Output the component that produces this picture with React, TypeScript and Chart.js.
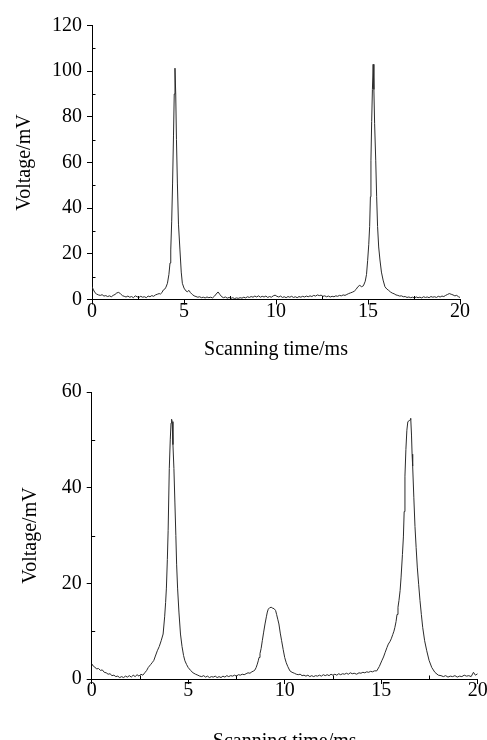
import { useEffect, useRef } from 'react';
import { Chart, registerables } from 'chart.js';

Chart.register(...registerables);

// ---------- data ----------
const topTime = [
  0.00, 0.08, 0.16, 0.25, 0.35, 0.45, 0.55, 0.65, 0.75, 0.85, 0.95, 1.05, 1.15, 1.25, 1.35, 1.45, 1.55, 1.65, 1.75, 1.85,
  1.95, 2.05, 2.15, 2.25, 2.35, 2.45, 2.55, 2.65, 2.75, 2.85, 2.95, 3.05, 3.15, 3.25, 3.35, 3.45, 3.55, 3.65, 3.72, 3.80,
  3.88, 3.95, 4.02, 4.10, 4.18, 4.24, 4.28, 4.33, 4.38, 4.43, 4.47, 4.51, 4.55, 4.59, 4.64, 4.70, 4.78, 4.85, 4.91, 5.00,
  5.10, 5.18, 5.27, 5.35, 5.45, 5.55, 5.65, 5.75, 5.85, 5.95, 6.05, 6.15, 6.25, 6.35, 6.45, 6.55, 6.65, 6.75, 6.85, 6.95,
  7.05, 7.15, 7.25, 7.35, 7.45, 7.55, 7.65, 7.75, 7.85, 7.95, 8.05, 8.15, 8.25, 8.35, 8.45, 8.55, 8.65, 8.75, 8.85, 8.95,
  9.05, 9.15, 9.25, 9.35, 9.45, 9.55, 9.65, 9.75, 9.85, 9.95, 10.05, 10.15, 10.25, 10.35, 10.45, 10.55, 10.65, 10.75, 10.85, 10.95,
  11.05, 11.15, 11.25, 11.35, 11.45, 11.55, 11.65, 11.75, 11.85, 11.95, 12.05, 12.15, 12.25, 12.35, 12.45, 12.55, 12.65, 12.75, 12.85, 12.95,
  13.05, 13.15, 13.25, 13.35, 13.45, 13.55, 13.65, 13.75, 13.85, 13.95, 14.05, 14.15, 14.25, 14.35, 14.45, 14.55, 14.65, 14.75, 14.85, 14.92,
  14.98, 15.04, 15.09, 15.13, 15.16, 15.20, 15.24, 15.28, 15.32, 15.36, 15.42, 15.47, 15.52, 15.58, 15.65, 15.73, 15.82, 15.92, 16.02, 16.12,
  16.22, 16.32, 16.42, 16.52, 16.62, 16.72, 16.82, 16.92, 17.02, 17.12, 17.22, 17.32, 17.42, 17.52, 17.62, 17.72, 17.82, 17.92, 18.02, 18.12,
  18.22, 18.32, 18.42, 18.52, 18.62, 18.72, 18.82, 18.92, 19.02, 19.12, 19.22, 19.32, 19.42, 19.52, 19.62, 19.72, 19.82, 19.92, 20.00,
];
const topVoltage = [
  5.6, 4.2, 3.0, 2.4, 2.0, 1.8, 2.1, 1.5, 1.7, 1.3, 1.6, 1.2, 1.8, 2.2, 2.9, 3.1, 2.5, 1.7, 1.4, 1.1,
  1.5, 1.0, 1.3, 0.8, 1.6, 1.2, 0.9, 1.4, 1.0, 1.2, 0.8, 1.5, 1.2, 1.7, 1.4, 2.0, 2.3, 2.6, 2.4, 3.0,
  4.2, 4.5, 5.4, 7.1, 11, 16, 21.7, 34, 51, 72, 90, 101.3, 90, 70, 51, 33, 21.7, 12, 7.1, 5.0,
  3.8, 3.4, 4.0, 3.0, 2.2, 1.6, 1.3, 1.0, 1.2, 0.8, 1.0, 0.7, 1.1, 0.8, 1.0, 0.7, 1.4, 2.4, 3.3, 2.2,
  1.2, 0.8, 1.1, 0.6, 0.9, 0.5, 0.8, 0.4, 0.7, 0.5, 0.8, 0.6, 1.0, 0.7, 1.2, 0.9, 1.3, 1.0, 1.5, 1.1,
  1.6, 1.0, 1.4, 1.1, 1.5, 0.9, 1.3, 1.0, 1.6, 1.9, 1.4, 1.1, 1.5, 0.9, 1.2, 0.8, 1.3, 1.0, 1.4, 0.9,
  1.2, 0.8, 1.3, 1.0, 1.4, 1.1, 1.5, 1.2, 1.6, 1.3, 1.8, 1.5, 2.0, 1.7, 1.9, 1.4, 1.6, 1.2, 1.5, 1.1,
  1.4, 1.2, 1.6, 1.4, 1.8, 1.6, 2.0, 1.8, 2.2, 2.6, 2.9, 3.2, 3.6, 4.4, 5.6, 6.2, 5.6, 6.0, 8, 11,
  17, 24, 32, 45, 61, 78, 92, 103, 92, 77, 61, 45, 32, 23, 17.3, 12, 8.5, 5.6, 4.6, 4.0,
  3.3, 2.8, 2.5, 2.0, 1.8, 1.5, 1.6, 1.2, 1.3, 0.9, 1.1, 0.8, 1.0, 0.7, 1.1, 0.8, 1.0, 0.7, 1.2, 0.9,
  1.1, 0.8, 1.3, 1.0, 1.2, 0.9, 1.4, 1.1, 1.5, 1.3, 1.8, 2.2, 2.6, 2.3, 2.0, 1.6, 1.8, 1.2, 0.9,
];

const bottomTime = [
  0.00, 0.08, 0.16, 0.25, 0.35, 0.45, 0.55, 0.65, 0.75, 0.85, 0.95, 1.05, 1.15, 1.25, 1.35, 1.45, 1.55, 1.65, 1.75, 1.85,
  1.95, 2.05, 2.15, 2.25, 2.35, 2.45, 2.55, 2.65, 2.75, 2.85, 2.93, 3.05, 3.15, 3.22, 3.30, 3.40, 3.50, 3.60, 3.70, 3.78,
  3.83, 3.87, 3.92, 3.96, 4.02, 4.07, 4.11, 4.14, 4.17, 4.21, 4.26, 4.31, 4.36, 4.40, 4.45, 4.52, 4.60, 4.68, 4.76, 4.83,
  4.92, 5.00, 5.12, 5.25, 5.38, 5.50, 5.60, 5.70, 5.80, 5.90, 6.00, 6.10, 6.20, 6.30, 6.40, 6.50, 6.60, 6.70, 6.80, 6.90,
  7.00, 7.10, 7.20, 7.30, 7.40, 7.50, 7.60, 7.70, 7.80, 7.90, 8.00, 8.10, 8.20, 8.30, 8.40, 8.46, 8.52, 8.58, 8.63, 8.67,
  8.72, 8.78, 8.84, 8.91, 8.98, 9.05, 9.10, 9.15, 9.22, 9.30, 9.38, 9.45, 9.53, 9.58, 9.64, 9.70, 9.77, 9.84, 9.92, 10.00,
  10.08, 10.16, 10.27, 10.38, 10.50, 10.60, 10.70, 10.80, 10.90, 11.00, 11.10, 11.20, 11.30, 11.40, 11.50, 11.60, 11.70, 11.80, 11.90, 12.00,
  12.10, 12.20, 12.30, 12.40, 12.50, 12.60, 12.70, 12.80, 12.90, 13.00, 13.10, 13.20, 13.30, 13.40, 13.50, 13.60, 13.73, 13.85, 13.95, 14.05,
  14.15, 14.25, 14.35, 14.45, 14.55, 14.65, 14.77, 14.90, 15.03, 15.12, 15.20, 15.30, 15.37, 15.45, 15.52, 15.60, 15.66, 15.71, 15.77, 15.82,
  15.87, 15.92, 15.98, 16.03, 16.10, 16.15, 16.19, 16.23, 16.28, 16.33, 16.38, 16.45, 16.50, 16.53, 16.57, 16.60, 16.63, 16.69, 16.75, 16.81,
  16.87, 16.94, 17.01, 17.08, 17.15, 17.25, 17.36, 17.48, 17.62, 17.78, 17.96, 18.10, 18.22, 18.34, 18.46, 18.58, 18.70, 18.82, 18.94, 19.06,
  19.18, 19.30, 19.42, 19.54, 19.66, 19.78, 19.88, 20.00,
];
const bottomVoltage = [
  3.2, 2.7, 2.5, 2.1, 2.2, 1.8, 1.9, 1.4, 1.3, 1.0, 1.1, 0.7, 0.8, 0.5, 0.6, 0.3, 0.5, 0.3, 0.6, 0.4,
  0.7, 0.4, 0.8, 0.5, 0.9, 0.6, 1.0, 0.8, 1.3, 1.8, 2.4, 3.0, 3.5, 3.9, 4.8, 5.9, 6.8, 8.0, 9.4, 13,
  16, 19, 25, 31, 44, 50, 53.5, 54.3, 53.8, 49, 44, 37, 30, 24, 19, 14, 9.4, 6.8, 4.9, 3.8,
  3.0, 2.4, 1.8, 1.3, 1.0, 0.8, 0.6, 0.5, 0.7, 0.4, 0.6, 0.3, 0.5, 0.4, 0.6, 0.3, 0.5, 0.3, 0.6, 0.4,
  0.7, 0.5, 0.7, 0.6, 0.8, 0.6, 0.9, 0.8, 1.0, 0.9, 1.1, 1.3, 1.2, 1.5, 1.7, 1.9, 2.4, 3.1, 3.8, 4.5,
  5.3, 6.4, 8.0, 9.8, 11.5, 13.0, 14.0, 14.6, 14.9, 15.0, 14.8, 14.7, 14.3, 13.5, 12.5, 11.5, 9.6, 8.0, 6.2, 4.5,
  3.4, 2.6, 1.7, 1.4, 1.2, 1.0, 0.9, 1.0, 0.7, 0.8, 0.6, 0.8, 0.5, 0.7, 0.5, 0.7, 0.6, 0.8, 0.6, 0.9,
  0.7, 0.9, 0.7, 1.0, 0.8, 1.0, 0.8, 1.1, 0.9, 1.1, 1.0, 1.2, 1.0, 1.3, 1.1, 1.2, 1.0, 1.3, 1.2, 1.4,
  1.3, 1.5, 1.4, 1.6, 1.5, 1.7, 1.7, 2.6, 3.8, 4.6, 5.5, 6.6, 7.3, 7.8, 8.4, 9.3, 10.0, 10.8, 12.0, 13.5,
  15.0, 16.4, 18.5, 21.3, 26, 29.7, 35, 42.4, 48, 52, 53.8, 54, 54.2, 54.5, 51, 47, 44.5, 38, 31.9, 27.5,
  23.4, 19.8, 16.4, 13.5, 10.8, 8.0, 5.9, 3.9, 2.4, 1.4, 0.8, 0.7, 0.5, 0.7, 0.4, 0.6, 0.5, 0.7, 0.4, 0.6,
  0.5, 0.8, 0.6, 0.7, 0.5, 1.4, 0.8, 1.1,
];

const xMin = 0;
const xMax = 20;
const xStep = 5;
const xMinorTicks = [2.5, 7.5, 12.5, 17.5];
const topYMax = 120;
const topYMinorTicks = [10, 30, 50, 70, 90, 110];
const bottomYMax = 60;
const bottomYMinorTicks = [10, 30, 50];
const yStep = 20;
const xTitle = 'Scanning time/ms';
const yTitle = 'Voltage/mV';

// ---------- styling ----------
const FONT = { family: "'Liberation Serif', 'Times New Roman', serif", size: 20, weight: 'normal' as const };
const INK = '#000';

const minorTickPlugin = {
  id: 'minorTicks',
  afterDraw(chart: any, _args: any, opts: any) {
    const { ctx, chartArea } = chart;
    const xs = chart.scales.x;
    const ys = chart.scales.y;
    ctx.save();
    ctx.strokeStyle = INK;
    ctx.lineWidth = 1;
    for (const v of opts.x || []) {
      const px = Math.round(xs.getPixelForValue(v)) + 0.5;
      ctx.beginPath();
      ctx.moveTo(px, chartArea.bottom);
      ctx.lineTo(px, chartArea.bottom - 3.5);
      ctx.stroke();
    }
    for (const v of opts.y || []) {
      const py = Math.round(ys.getPixelForValue(v)) + 0.5;
      ctx.beginPath();
      ctx.moveTo(chartArea.left, py);
      ctx.lineTo(chartArea.left + 3.5, py);
      ctx.stroke();
    }
    ctx.restore();
  },
};

type PanelProps = {
  time: number[];
  voltage: number[];
  yMax: number;
  yMinor: number[];
  top: number;
  height: number;
  padTop: number;
  padRight: number;
  yAxisWidth: number;
  xAxisHeight: number;
  xTitlePad: number;
  yTitlePad: number;
};

function Panel(p: PanelProps) {
  const ref = useRef<HTMLCanvasElement | null>(null);
  useEffect(() => {
    if (!ref.current) return;
    const chart = new Chart(ref.current, {
      type: 'line',
      data: {
        datasets: [
          {
            data: p.time.map((t, i) => ({ x: t, y: p.voltage[i] })),
            borderColor: '#2b2b2b',
            borderWidth: 1,
            pointRadius: 0,
            tension: 0,
            fill: false,
          },
        ],
      },
      options: {
        animation: false,
        responsive: false,
        maintainAspectRatio: false,
        events: [],
        layout: { padding: { top: p.padTop, right: p.padRight, left: 0, bottom: 0 } },
        plugins: {
          legend: { display: false },
          tooltip: { enabled: false },
          minorTicks: { x: xMinorTicks, y: p.yMinor },
        } as any,
        scales: {
          x: {
            type: 'linear',
            min: xMin,
            max: xMax,
            ticks: { stepSize: xStep, color: INK, font: FONT, padding: -5, maxRotation: 0, autoSkip: false },
            grid: { drawOnChartArea: false, drawTicks: true, tickLength: 5, color: INK, lineWidth: 1 },
            border: { display: true, color: INK, width: 1 },
            title: { display: true, text: xTitle, color: INK, font: FONT, padding: { top: 0, bottom: p.xTitlePad } },
            afterFit: (s: any) => {
              s.height = p.xAxisHeight;
            },
          },
          y: {
            type: 'linear',
            min: 0,
            max: p.yMax,
            ticks: { stepSize: yStep, color: INK, font: FONT, padding: 5 },
            grid: { drawOnChartArea: false, drawTicks: true, tickLength: 5, color: INK, lineWidth: 1 },
            border: { display: true, color: INK, width: 1 },
            title: { display: true, text: yTitle, color: INK, font: FONT, padding: { top: p.yTitlePad, bottom: 0 } },
            afterFit: (s: any) => {
              s.width = p.yAxisWidth;
            },
          },
        },
      } as any,
      plugins: [minorTickPlugin],
    });
    return () => chart.destroy();
  }, []);
  return (
    <canvas
      ref={ref}
      width={487}
      height={p.height}
      style={{ position: 'absolute', left: 0, top: p.top, width: 487, height: p.height, display: 'block' }}
    />
  );
}

export default function App() {
  return (
    <div
      style={{
        position: 'fixed',
        left: 0,
        top: 0,
        width: 487,
        height: 740,
        overflow: 'hidden',
        background: '#fff',
      }}
    >
      <Panel
        time={topTime}
        voltage={topVoltage}
        yMax={topYMax}
        yMinor={topYMinorTicks}
        top={0}
        height={370}
        padTop={25.5}
        padRight={27}
        yAxisWidth={92}
        xAxisHeight={70.5}
        xTitlePad={8}
        yTitlePad={13}
      />
      <Panel
        time={bottomTime}
        voltage={bottomVoltage}
        yMax={bottomYMax}
        yMinor={bottomYMinorTicks}
        top={370}
        height={400}
        padTop={22}
        padRight={9.3}
        yAxisWidth={91.7}
        xAxisHeight={91}
        xTitlePad={16}
        yTitlePad={19}
      />
    </div>
  );
}
